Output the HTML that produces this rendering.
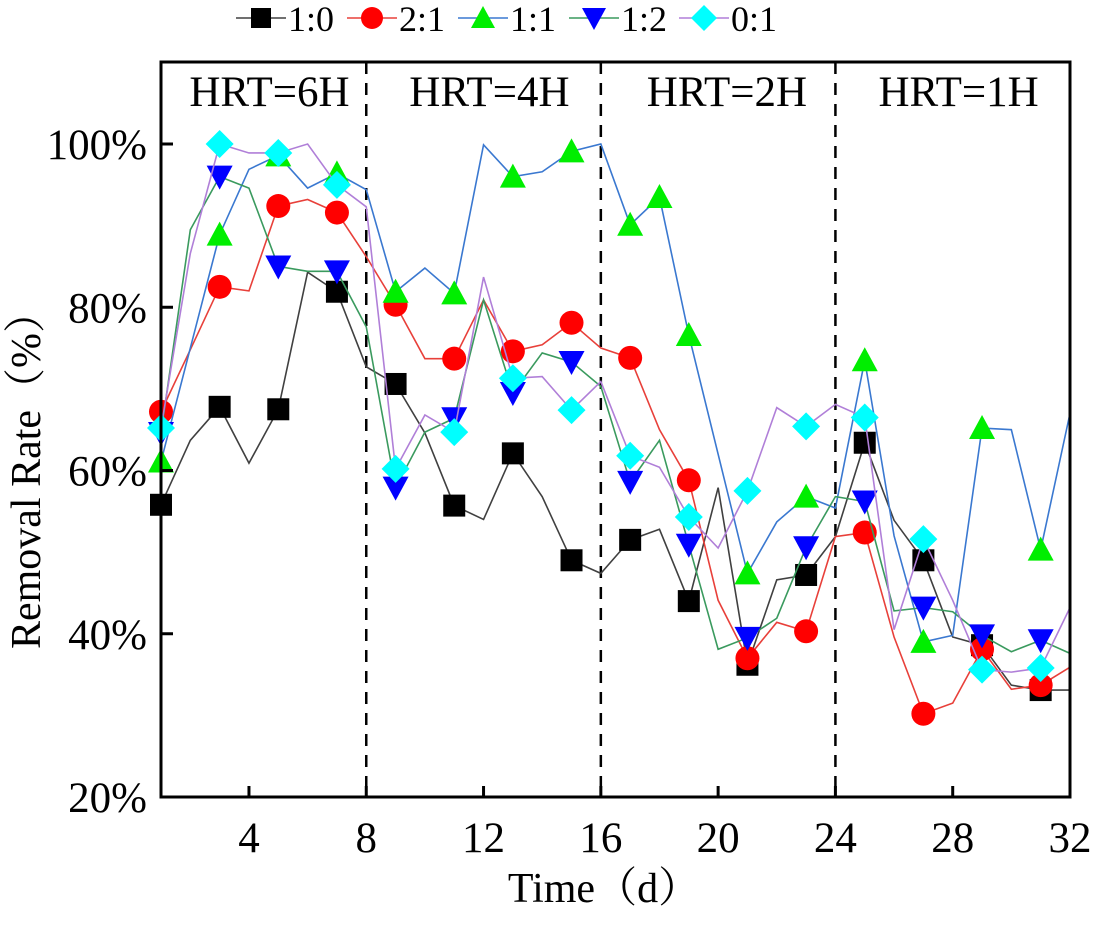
<!DOCTYPE html>
<html><head><meta charset="utf-8"><style>
body{margin:0;background:#fff;}
svg text{font-family:"Liberation Serif","Noto Serif CJK SC",serif;fill:#000;}
</style></head><body>
<svg id="chart" width="1095" height="922" viewBox="0 0 1095 922" xmlns="http://www.w3.org/2000/svg"></svg>
<script>
const days=[1,2,3,4,5,6,7,8,9,10,11,12,13,14,15,16,17,18,19,20,21,22,23,24,25,26,27,28,29,30,31,32];
const s10=[55.8,63.7,67.8,60.9,67.5,84.3,81.9,72.7,70.6,64.6,55.7,54,62.1,56.8,49.0,47.4,51.5,52.8,44.0,57.9,36.2,46.6,47.2,51.9,63.4,53.9,49.0,39.6,38.6,33.7,33.1,33.1];
const s21=[67.2,74.8,82.5,82.0,92.4,93.2,91.6,86.2,80.3,73.7,73.7,80.9,74.6,75.4,78.1,75.0,73.8,65,58.8,44.1,37.0,41.4,40.3,51.9,52.4,39.6,30.2,31.5,38.1,33.2,33.7,35.9];
const s11=[61.1,75,88.9,96.9,98.6,94.6,96.4,94.4,81.9,84.8,81.7,99.9,96.0,96.6,99.1,100,90.1,93.5,76.6,62,47.4,53.7,56.8,55.4,73.5,52,39.0,39.8,65.2,65,50.3,67];
const s12=[64.6,89.5,96.0,94.6,85.0,84.4,84.4,77.6,57.9,64.7,66.4,80.9,69.5,74.4,73.3,70.3,58.6,63.7,50.9,38.1,39.5,41.9,50.6,56.8,56.2,42.8,43.2,42.7,39.8,37.8,39.2,37.6];
const s01=[65.2,86.6,100,98.9,98.9,100,95.0,92.3,60.2,66.8,64.7,83.7,71.3,71.5,67.4,70.9,61.8,60.4,54.3,50.5,57.5,67.7,65.4,68.1,66.5,40.5,51.6,44.1,35.6,35.3,35.8,43.2];
const seriesNames=["1:0","2:1","1:1","1:2","0:1"];
const yTicks=[20,40,60,80,100];
const xTicks=[4,8,12,16,20,24,28,32];
const phaseBounds=[8,16,24];
const phaseLabels=["HRT=6H","HRT=4H","HRT=2H","HRT=1H"];
const phaseCenters=[4.7,12.2,20.3,28.2];

const NS="http://www.w3.org/2000/svg";
const svg=document.getElementById('chart');
const L=161,R=1070,T=62,B=797;
const X=d=>L+(d-1)*(R-L)/31;
const Y=v=>B-(v-20)*(B-144)/80;
function mk(tag,attrs,parent){const e=document.createElementNS(NS,tag);for(const k in attrs)e.setAttribute(k,attrs[k]);(parent||svg).appendChild(e);return e;}

phaseBounds.forEach(d=>{
  const l=mk('line',{x1:X(d),x2:X(d),y1:T,y2:B,stroke:'#000','stroke-width':2.5,'stroke-dasharray':'12,9'});
  
  
});
phaseLabels.forEach((t,i)=>{
  const e=mk('text',{x:X(phaseCenters[i]),y:106,'font-size':43,'text-anchor':'middle'});
  e.textContent=t;
  
  
});

const styles=[
 {line:'#404040',fill:'#000',m:'square'},
 {line:'#e8403a',fill:'#ff0000',m:'circle'},
 {line:'#3a78d0',fill:'#00ee00',m:'tri'},
 {line:'#3a9a5e',fill:'#0000ff',m:'itri'},
 {line:'#b07fd8',fill:'#00ffff',m:'diamond'}
];
const allData=[s10,s21,s11,s12,s01];
function marker(type,x,y,fill,g,s){
  s=s||11;
  if(type==='square')return mk('rect',{x:x-s,y:y-s,width:2*s,height:2*s,fill},g);
  if(type==='circle')return mk('circle',{cx:x,cy:y,r:s+1,fill},g);
  if(type==='tri')return mk('polygon',{points:`${x},${y-s-2} ${x+s+2},${y+s} ${x-s-2},${y+s}`,fill},g);
  if(type==='itri')return mk('polygon',{points:`${x-s-2},${y-s} ${x+s+2},${y-s} ${x},${y+s+2}`,fill},g);
  return mk('polygon',{points:`${x},${y-s-3} ${x+s+3},${y} ${x},${y+s+3} ${x-s-3},${y}`,fill},g);
}
allData.forEach((data,si)=>{
  const st=styles[si];
  const g=mk('g',{});
  
  
  const p=mk('polyline',{points:data.map((v,i)=>X(days[i])+','+Y(v)).join(' '),fill:'none',stroke:st.line,'stroke-width':1.6},g);
  
  
  data.forEach((v,i)=>{
    const d=days[i];
    if(d%2===1||(si===2&&d===18)){
      const m=marker(st.m,X(d),Y(v),st.fill,g);
      
      
    }
  });
});

const fr=mk('rect',{x:L,y:T,width:R-L,height:B-T,fill:'none',stroke:'#000','stroke-width':3});


yTicks.forEach(v=>{
  const t=mk('line',{x1:L,x2:L+12,y1:Y(v),y2:Y(v),stroke:'#000','stroke-width':3});
  
  
  const tx=mk('text',{x:147,y:Y(v)+15,'font-size':43,'text-anchor':'end'});
  tx.textContent=v+'%';
  
  
});
xTicks.forEach(d=>{
  const t=mk('line',{x1:X(d),x2:X(d),y1:B,y2:B-11,stroke:'#000','stroke-width':3});
  
  
  const tx=mk('text',{x:X(d),y:852,'font-size':43,'text-anchor':'middle'});
  tx.textContent=d;
  
  
});
const xt=mk('text',{x:604,y:902,'font-size':42,'text-anchor':'middle'});
xt.textContent='Time（d）';


const yt=mk('text',{x:0,y:0,'font-size':42,'text-anchor':'middle',transform:'translate(40,470) rotate(-90)'});
yt.textContent='Removal Rate（%）';



const lx=[236,347,458,569,679];
seriesNames.forEach((n,i)=>{
  const st=styles[i];
  const g=mk('g',{});
  
  
  mk('line',{x1:lx[i],x2:lx[i]+50,y1:18,y2:18,stroke:st.line,'stroke-width':1.6},g);
  marker(st.m,lx[i]+25,18,st.fill,g,10);
  const t=mk('text',{x:lx[i]+52,y:31,'font-size':36},g);
  t.textContent=n;
});
</script>
</body></html>
